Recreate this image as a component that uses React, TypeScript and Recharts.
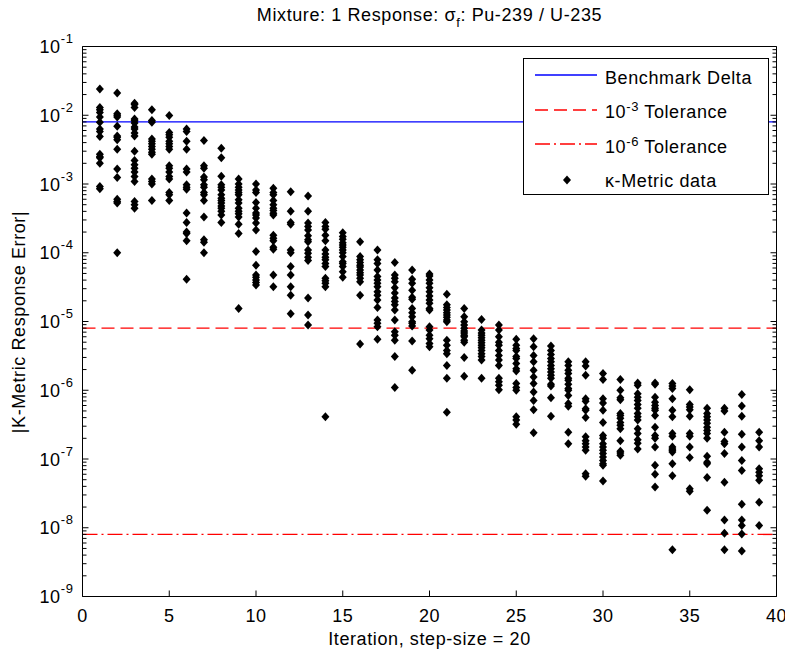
import React from 'react'
import { ScatterChart, Scatter, XAxis, YAxis, ReferenceLine, Legend } from 'recharts'

const FONT = '"Liberation Sans", Arial, sans-serif'

// iteration index for each column of points
const iterations = [
  1, 2, 3, 4, 5, 6, 7, 8, 9, 10, 11, 12, 13, 14, 15, 16, 17, 18, 19, 20,
  21, 22, 23, 24, 25, 26, 27, 28, 29, 30, 31, 32, 33, 34, 35, 36, 37, 38, 39,
]

// |K-metric response error| values at each iteration (same order as iterations)
const errorsByIteration: number[][] = [
  [2.4e-2, 1.3e-2, 1.2e-2, 1.1e-2, 9.4e-3, 7.9e-3, 6.3e-3, 5.8e-3, 4.9e-3, 2.7e-3, 2.5e-3, 2.4e-3, 2.0e-3, 9.2e-4, 8.5e-4],
  [2.1e-2, 1.05e-2, 1.0e-2, 9.4e-3, 6.9e-3, 5.0e-3, 4.8e-3, 4.4e-3, 3.2e-3, 1.65e-3, 1.24e-3, 6.0e-4, 5.55e-4, 5.3e-4, 1.0e-4],
  [1.5e-2, 1.43e-2, 1.3e-2, 8.8e-3, 8.3e-3, 7.7e-3, 6.75e-3, 6.3e-3, 5.5e-3, 5.0e-3, 3.0e-3, 2.2e-3, 1.9e-3, 1.7e-3, 1.5e-3, 1.29e-3, 1.09e-3, 5.55e-4, 5.0e-4, 4.45e-4],
  [1.2e-2, 8.4e-3, 7.9e-3, 4.5e-3, 4.2e-3, 3.85e-3, 3.5e-3, 3.2e-3, 2.9e-3, 2.7e-3, 1.18e-3, 1.09e-3, 1.0e-3, 5.75e-4],
  [9.9e-3, 5.6e-3, 5.2e-3, 4.8e-3, 4.2e-3, 3.85e-3, 3.5e-3, 3.2e-3, 1.84e-3, 1.7e-3, 1.5e-3, 1.29e-3, 1.18e-3, 7.5e-4, 7.0e-4, 5.75e-4],
  [6.3e-3, 5.8e-3, 4.2e-3, 3.2e-3, 1.65e-3, 1.5e-3, 9.75e-4, 9.0e-4, 8.4e-4, 3.8e-4, 2.75e-4, 2.0e-4, 1.9e-4, 1.5e-4, 4.1e-5],
  [4.3e-3, 1.84e-3, 1.7e-3, 1.26e-3, 1.15e-3, 9.75e-4, 9.0e-4, 7.5e-4, 7.0e-4, 5.75e-4, 3.3e-4, 1.54e-4, 1.42e-4, 1.0e-4],
  [3.3e-3, 2.4e-3, 1.3e-3, 9.75e-4, 9.0e-4, 8.2e-4, 7.0e-4, 6.2e-4, 5.75e-4, 5.3e-4, 4.8e-4, 4.45e-4, 4.0e-4, 3.55e-4, 2.75e-4],
  [1.18e-3, 1.0e-3, 9.0e-4, 8.2e-4, 7.5e-4, 7.0e-4, 5.9e-4, 5.3e-4, 4.45e-4, 4.0e-4, 3.7e-4, 3.3e-4, 2.6e-4, 1.9e-4, 1.55e-5],
  [1.0e-3, 8.2e-4, 7.5e-4, 5.4e-4, 4.45e-4, 3.8e-4, 3.55e-4, 3.2e-4, 2.7e-4, 2.15e-4, 1.04e-4, 6.6e-5, 4.75e-5, 4.4e-5, 4.0e-5, 3.7e-5, 3.4e-5],
  [8.7e-4, 7.5e-4, 7.0e-4, 5.75e-4, 5.0e-4, 4.45e-4, 4.1e-4, 3.75e-4, 3.55e-4, 1.8e-4, 1.63e-4, 1.5e-4, 1.2e-4, 1.12e-4, 4.75e-5, 3.2e-5],
  [7.7e-4, 4.0e-4, 2.75e-4, 2.6e-4, 1.1e-4, 1.0e-4, 6.3e-5, 4.75e-5, 3.2e-5, 2.4e-5, 1.3e-5],
  [6.7e-4, 4.0e-4, 2.7e-4, 2.4e-4, 2.15e-4, 1.76e-4, 1.54e-4, 1.45e-4, 1.1e-4, 9.8e-5, 8.6e-5, 7.7e-5, 2.2e-5, 1.24e-5, 8.9e-6],
  [2.75e-4, 2.4e-4, 2.2e-4, 1.8e-4, 1.5e-4, 1.1e-4, 9.6e-5, 8.6e-5, 7.9e-5, 7.0e-5, 6.3e-5, 4.25e-5, 3.9e-5, 3.6e-5, 3.2e-5, 4.1e-7],
  [1.96e-4, 1.72e-4, 1.57e-4, 1.4e-4, 1.3e-4, 1.2e-4, 1.1e-4, 1.0e-4, 8.8e-5, 7.4e-5, 7.0e-5, 6.3e-5, 5.3e-5, 4.4e-5],
  [1.45e-4, 8.8e-5, 7.9e-5, 7.2e-5, 6.6e-5, 6.2e-5, 5.6e-5, 5.1e-5, 4.75e-5, 4.25e-5, 3.8e-5, 2.4e-5, 4.7e-6],
  [1.1e-4, 7.9e-5, 7.0e-5, 5.6e-5, 4.5e-5, 4.0e-5, 3.6e-5, 3.2e-5, 2.7e-5, 2.4e-5, 2.05e-5, 1.6e-5, 1.05e-5, 9.4e-6, 8.4e-6, 5.5e-6],
  [7.2e-5, 4.75e-5, 4.25e-5, 3.8e-5, 3.1e-5, 2.6e-5, 2.2e-5, 1.95e-5, 1.75e-5, 1.47e-5, 1.05e-5, 7.1e-6, 6.3e-6, 5.35e-6, 3.1e-6, 1.1e-6],
  [5.6e-5, 4.1e-5, 3.6e-5, 2.85e-5, 2.25e-5, 2.1e-5, 1.55e-5, 1.34e-5, 1.17e-5, 9.9e-6, 9.4e-6, 8.6e-6, 5.2e-6, 1.96e-6],
  [4.9e-5, 4.6e-5, 4.0e-5, 3.6e-5, 3.1e-5, 2.7e-5, 2.35e-5, 2.05e-5, 1.84e-5, 1.55e-5, 1.47e-5, 8.4e-6, 7.5e-6, 6.3e-6, 5.6e-6, 4.8e-6, 4.3e-6],
  [2.5e-5, 1.75e-5, 1.6e-5, 1.47e-5, 1.34e-5, 1.24e-5, 1.15e-5, 1.05e-5, 9.9e-6, 5.35e-6, 4.5e-6, 3.8e-6, 3.4e-6, 2.3e-6, 1.5e-6, 4.8e-7],
  [1.55e-5, 1.17e-5, 9.9e-6, 8.9e-6, 8.0e-6, 7.3e-6, 6.8e-6, 6.3e-6, 6.0e-6, 5.35e-6, 5.0e-6, 3.0e-6, 1.6e-6],
  [1.07e-5, 7.5e-6, 6.8e-6, 6.3e-6, 5.8e-6, 5.35e-6, 4.9e-6, 4.5e-6, 4.15e-6, 3.8e-6, 3.4e-6, 3.1e-6, 2.75e-6, 1.5e-6],
  [8.9e-6, 7.5e-6, 6.0e-6, 5.0e-6, 4.5e-6, 3.8e-6, 3.2e-6, 2.75e-6, 2.3e-6, 1.5e-6, 1.33e-6, 1.18e-6, 1.02e-6],
  [5.5e-6, 4.5e-6, 4.05e-6, 3.8e-6, 3.1e-6, 2.9e-6, 2.45e-6, 2.05e-6, 1.9e-6, 1.25e-6, 1.1e-6, 1.0e-6, 4.1e-7, 3.7e-7, 3.2e-7],
  [5.6e-6, 4.3e-6, 3.2e-6, 2.6e-6, 1.96e-6, 1.56e-6, 1.25e-6, 9.4e-7, 7.1e-7, 5.2e-7, 2.4e-7],
  [4.4e-6, 3.8e-6, 3.3e-6, 2.9e-6, 2.6e-6, 2.3e-6, 2.05e-6, 1.85e-6, 1.65e-6, 1.5e-6, 1.22e-6, 1.15e-6, 7.8e-7, 4.2e-7],
  [2.6e-6, 2.3e-6, 1.96e-6, 1.75e-6, 1.5e-6, 1.4e-6, 1.22e-6, 1.06e-6, 1.0e-6, 8.4e-7, 6.4e-7, 5.85e-7, 2.45e-7, 1.67e-7],
  [2.6e-6, 2.25e-6, 1.65e-6, 7.5e-7, 6.9e-7, 5.4e-7, 5.1e-7, 4.0e-7, 2.1e-7, 1.85e-7, 1.67e-7, 1.5e-7, 1.34e-7, 6.1e-8, 5.6e-8],
  [1.75e-6, 1.43e-6, 7.5e-7, 6.5e-7, 5.1e-7, 3.4e-7, 2.2e-7, 2.0e-7, 1.67e-7, 1.5e-7, 1.34e-7, 1.2e-7, 1.07e-7, 9.5e-8, 8.5e-8, 8.1e-8, 4.8e-8],
  [1.43e-6, 1.0e-6, 7.8e-7, 7.3e-7, 4.6e-7, 4.3e-7, 3.9e-7, 3.4e-7, 3.1e-7, 2.75e-7, 1.85e-7, 1.3e-7, 1.22e-7, 1.13e-7],
  [1.28e-6, 1.18e-6, 8.9e-7, 7.9e-7, 7.1e-7, 6.2e-7, 5.45e-7, 4.6e-7, 4.1e-7, 3.7e-7, 2.75e-7, 2.35e-7, 1.9e-7, 1.7e-7, 1.4e-7],
  [1.28e-6, 1.22e-6, 7.9e-7, 6.7e-7, 6.0e-7, 5.45e-7, 5.1e-7, 4.3e-7, 2.9e-7, 2.2e-7, 2.0e-7, 1.5e-7, 8.1e-8, 6.0e-8, 3.9e-8],
  [1.25e-6, 1.15e-6, 1.06e-6, 7.5e-7, 5.1e-7, 4.1e-7, 2.35e-7, 2.15e-7, 1.5e-7, 1.4e-7, 1.34e-7, 1.26e-7, 8.5e-8, 5.7e-8, 4.8e-9],
  [1.02e-6, 6.2e-7, 5.7e-7, 5.2e-7, 4.2e-7, 2.35e-7, 2.15e-7, 1.5e-7, 1.05e-7, 3.7e-8, 3.4e-8],
  [5.45e-7, 4.6e-7, 4.1e-7, 3.7e-7, 3.3e-7, 2.9e-7, 2.6e-7, 2.35e-7, 2.0e-7, 1.1e-7, 9.0e-8, 8.5e-8, 5.4e-8, 1.8e-8],
  [5.45e-7, 5.0e-7, 2.45e-7, 1.8e-7, 1.67e-7, 1.2e-7, 4.6e-8, 1.3e-8, 8.3e-9, 4.8e-9],
  [8.7e-7, 5.9e-7, 4.2e-7, 2.3e-7, 1.5e-7, 9.5e-8, 6.8e-8, 2.2e-8, 1.3e-8, 1.08e-8, 8.1e-9, 4.6e-9],
  [2.45e-7, 1.85e-7, 1.5e-7, 7.2e-8, 6.4e-8, 5.7e-8, 4.9e-8, 2.35e-8, 1.08e-8],
]

const xTicks = [0, 5, 10, 15, 20, 25, 30, 35, 40]
const yDecades = [1e-9, 1e-8, 1e-7, 1e-6, 1e-5, 1e-4, 1e-3, 1e-2, 1e-1]
const minorSteps = [2, 3, 4, 5, 6, 7, 8, 9]

const benchmarkDelta = 8e-3
const tolerance3 = 8e-6
const tolerance6 = 8e-9

const BLUE = '#0000ff'
const RED = '#ff0000'
const DASHED = '13 6'
const DASH_DOT = '15 4 2 4'

const points = iterations.flatMap((it, i) => errorsByIteration[i].map((v) => ({ x: it, y: v })))

// decade ticks plus the 2..9 minor ticks inside every decade
const yTicks = yDecades.flatMap((d, i) =>
  i < yDecades.length - 1 ? [d, ...minorSteps.map((m) => m * d)] : [d]
)

function isMajor(v: number) {
  const lg = Math.log10(v)
  return Math.abs(lg - Math.round(lg)) < 1e-6
}

const textStyle = { fontFamily: FONT, letterSpacing: '0.6px' }

function LeftTick(props: any) {
  const { x, y, payload } = props
  const major = isMajor(payload.value)
  return (
    <g>
      <line x1={x} y1={y} x2={x + (major ? 6 : 4)} y2={y} stroke="#000" />
      {major && (
        <text x={x - 9} y={y + 6.5} textAnchor="end" fontSize={18} fill="#000" style={textStyle}>
          10
          <tspan dy={-10} fontSize={13}>
            {Math.round(Math.log10(payload.value))}
          </tspan>
        </text>
      )}
    </g>
  )
}

function RightTick(props: any) {
  const { x, y, payload } = props
  const major = isMajor(payload.value)
  return <line x1={x} y1={y} x2={x - (major ? 6 : 4)} y2={y} stroke="#000" />
}

function BottomTick(props: any) {
  const { x, y, payload } = props
  return (
    <g>
      <line x1={x} y1={y} x2={x} y2={y - 6} stroke="#000" />
      <text x={x} y={y + 25} textAnchor="middle" fontSize={18} fill="#000" style={textStyle}>
        {payload.value}
      </text>
    </g>
  )
}

function TopTick(props: any) {
  const { x, y } = props
  return <line x1={x} y1={y} x2={x} y2={y + 6} stroke="#000" />
}

function Diamond(props: any) {
  const { cx, cy } = props
  if (cx == null || cy == null) return null
  const rx = 4
  const ry = 4.5
  return <polygon points={`${cx},${cy - ry} ${cx + rx},${cy} ${cx},${cy + ry} ${cx - rx},${cy}`} fill="#000" />
}

const supStyle = { fontSize: 13, verticalAlign: '7px', lineHeight: 0 }

const legendItems = [
  { key: 'bench', color: BLUE, dash: undefined as string | undefined | null, label: <>Benchmark Delta</> },
  { key: 'tol3', color: RED, dash: DASHED, label: <>10<sup style={supStyle}>-3</sup> Tolerance</> },
  { key: 'tol6', color: RED, dash: DASH_DOT, label: <>10<sup style={supStyle}>-6</sup> Tolerance</> },
  { key: 'data', color: '#000', dash: null, label: <>κ-Metric data</> },
]

function LegendBox() {
  return (
    <div
      style={{
        width: 246,
        height: 137,
        boxSizing: 'border-box',
        border: '1px solid #000',
        background: '#fff',
        fontFamily: FONT,
        fontSize: 18,
        letterSpacing: '0.6px',
        color: '#000',
        paddingTop: 2,
      }}
    >
      {legendItems.map((item) => (
        <div key={item.key} style={{ display: 'flex', alignItems: 'center', height: 34.5 }}>
          <svg width={74} height={20} style={{ flex: 'none' }}>
            {item.dash === null ? (
              <polygon points="43,3.5 47,8 43,12.5 39,8" fill="#000" />
            ) : (
              <line x1={11} y1={7} x2={73} y2={7} stroke={item.color} strokeWidth={1.4} strokeDasharray={item.dash} />
            )}
          </svg>
          <span style={{ marginLeft: 7, whiteSpace: 'nowrap' }}>{item.label}</span>
        </div>
      ))}
    </div>
  )
}

export default function App() {
  return (
    <div style={{ position: 'absolute', left: 0, top: 0, width: 785, height: 655, background: '#fff' }}>
      <ScatterChart width={785} height={655} margin={{ top: 0, right: 0, bottom: 0, left: 0 }}>
        <XAxis
          xAxisId="bottom"
          type="number"
          dataKey="x"
          domain={[0, 40]}
          ticks={xTicks}
          interval={0}
          height={58.5}
          tickSize={0}
          tickMargin={0}
          tickLine={false}
          axisLine={{ stroke: '#000' }}
          tick={<BottomTick />}
        />
        <XAxis
          xAxisId="top"
          orientation="top"
          type="number"
          domain={[0, 40]}
          ticks={xTicks}
          interval={0}
          height={46.5}
          tickSize={0}
          tickMargin={0}
          tickLine={false}
          axisLine={{ stroke: '#000' }}
          tick={<TopTick />}
        />
        <YAxis
          yAxisId="left"
          type="number"
          dataKey="y"
          scale="log"
          domain={[1e-9, 1e-1]}
          allowDataOverflow
          ticks={yTicks}
          interval={0}
          width={82.5}
          tickSize={0}
          tickMargin={0}
          tickLine={false}
          axisLine={{ stroke: '#000' }}
          tick={<LeftTick />}
        />
        <YAxis
          yAxisId="right"
          orientation="right"
          type="number"
          scale="log"
          domain={[1e-9, 1e-1]}
          allowDataOverflow
          ticks={yTicks}
          interval={0}
          width={8.5}
          tickSize={0}
          tickMargin={0}
          tickLine={false}
          axisLine={{ stroke: '#000' }}
          tick={<RightTick />}
        />
        <ReferenceLine xAxisId="bottom" yAxisId="left" y={benchmarkDelta} stroke={BLUE} strokeWidth={1.4} />
        <ReferenceLine xAxisId="bottom" yAxisId="left" y={tolerance3} stroke={RED} strokeWidth={1.4} strokeDasharray={DASHED} />
        <ReferenceLine xAxisId="bottom" yAxisId="left" y={tolerance6} stroke={RED} strokeWidth={1.4} strokeDasharray={DASH_DOT} />
        <Scatter
          xAxisId="bottom"
          yAxisId="left"
          name="κ-Metric data"
          data={points}
          shape={<Diamond />}
          isAnimationActive={false}
        />
        <Legend
          layout="vertical"
          align="center"
          verticalAlign="middle"
          width={246}
          height={137}
          wrapperStyle={{ left: 523, top: 58 }}
          content={<LegendBox />}
        />
      </ScatterChart>
      <div
        style={{
          position: 'absolute',
          left: 82.5,
          width: 694,
          top: 5,
          lineHeight: '20px',
          textAlign: 'center',
          fontSize: 18,
          whiteSpace: 'nowrap',
          ...textStyle,
        }}
      >
        Mixture: 1 Response: σ<sub style={{ fontSize: 13, verticalAlign: '-6px', lineHeight: 0 }}>f</sub>: Pu-239 / U-235
      </div>
      <div
        style={{
          position: 'absolute',
          left: 82.5,
          width: 694,
          top: 629,
          lineHeight: '20px',
          textAlign: 'center',
          fontSize: 18,
          whiteSpace: 'nowrap',
          ...textStyle,
        }}
      >
        Iteration, step-size = 20
      </div>
      <div
        style={{
          position: 'absolute',
          left: 19,
          top: 321.5,
          lineHeight: '20px',
          fontSize: 18,
          whiteSpace: 'nowrap',
          transform: 'translate(-50%, -50%) rotate(-90deg)',
          ...textStyle,
        }}
      >
        |K-Metric Response Error|
      </div>
    </div>
  )
}
